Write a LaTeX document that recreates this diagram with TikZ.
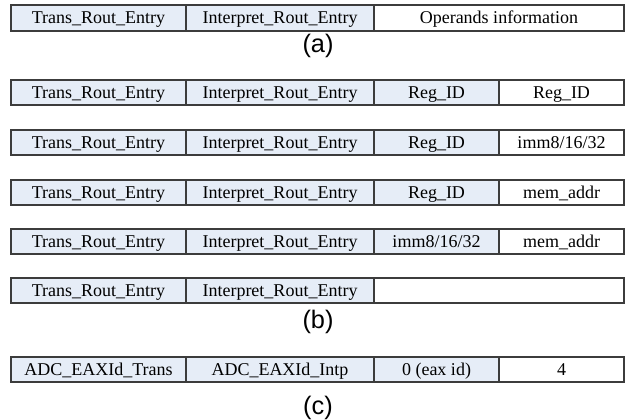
\documentclass[tikz,border=0pt]{standalone}
\usepackage{fontspec}
\setmainfont{Liberation Serif}
\newfontfamily\capfont{Liberation Sans}
\usetikzlibrary{positioning}
\definecolor{cellblue}{HTML}{E6EDF7}
\definecolor{cellline}{HTML}{3C3C3C}

\begin{document}
\begin{tikzpicture}[x=0.75pt, y=-0.75pt,
  cell/.style={draw=cellline, line width=0.9pt, fill=white, anchor=north west,
               inner sep=0pt, outer sep=0pt, minimum height=18.75pt,
               text height=12pt, text depth=3pt,
               font=\fontsize{13.5}{15}\selectfont},
  shaded/.style={cell, fill=cellblue},
  colA/.style={minimum width=131.25pt},
  colB/.style={minimum width=141pt},
  colC/.style={minimum width=93.75pt},
  colW/.style={minimum width=187.5pt},
  tag/.style={font=\capfont\fontsize{19}{21}\selectfont}]
  \useasboundingbox (0,0) rectangle (626,420);

  % (a) generic layout
  \node[shaded, colA, minimum height=19.5pt] (ta) at (11,5) {Trans\_Rout\_Entry};
  \node[shaded, colB, minimum height=19.5pt, right=0pt of ta] (ia) {Interpret\_Rout\_Entry};
  \node[cell, colW, minimum height=19.5pt, right=0pt of ia] (oa) {Operands information};
  \node[tag] (capa) at (318,46) {(a)};

  % (b) operand variants
  \foreach \y/\k/\p/\q in {80/1/{Reg\_ID}/{Reg\_ID}, 130/2/{Reg\_ID}/{imm8/16/32},
                           180/3/{Reg\_ID}/{mem\_addr}, 229/4/{imm8/16/32}/{mem\_addr}}{
    \node[shaded, colA] (tb\k) at (11,\y) {Trans\_Rout\_Entry};
    \node[shaded, colB, right=0pt of tb\k] (ib\k) {Interpret\_Rout\_Entry};
    \node[shaded, colC, right=0pt of ib\k] (pb\k) {\p};
    \node[cell, colC, right=0pt of pb\k] (qb\k) {\q};
  }
  \node[shaded, colA] (tb5) at (11,278) {Trans\_Rout\_Entry};
  \node[shaded, colB, right=0pt of tb5] (ib5) {Interpret\_Rout\_Entry};
  \node[cell, colW, right=0pt of ib5] (ob5) {};
  \node[tag] (capb) at (318,322) {(b)};

  % (c) ADC example
  \node[shaded, colA] (tc) at (11,357) {ADC\_EAXId\_Trans};
  \node[shaded, colB, right=0pt of tc] (ic) {ADC\_EAXId\_Intp};
  \node[shaded, colC, right=0pt of ic] (pc) {0 (eax id)};
  \node[cell, colC, right=0pt of pc] (qc) {4};
  \node[tag] (capc) at (318,408) {(c)};
\end{tikzpicture}
\end{document}
